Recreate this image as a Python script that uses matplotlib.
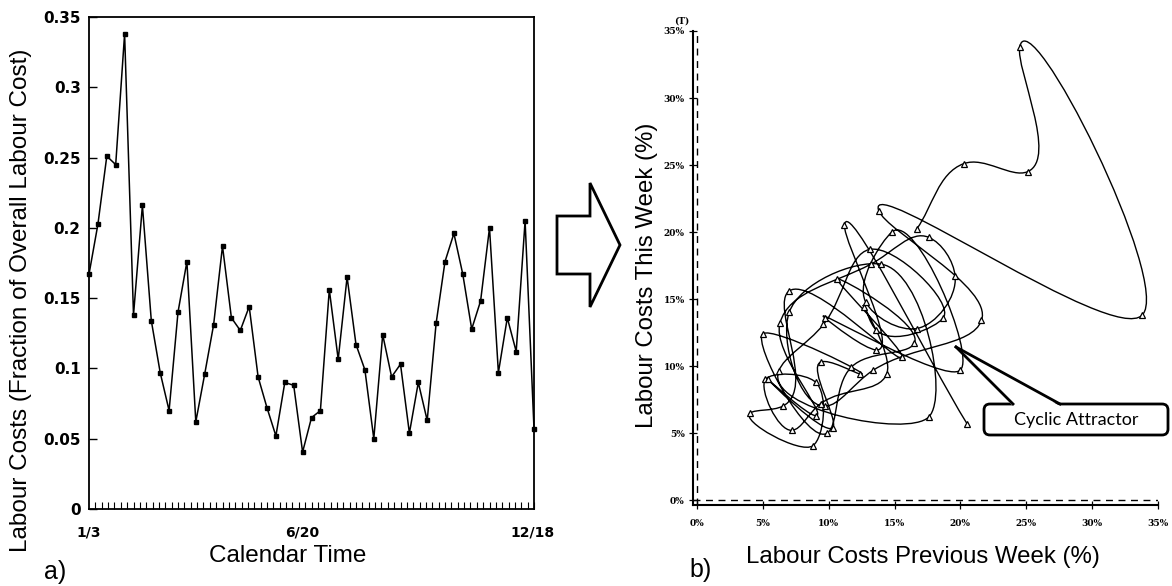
import matplotlib
matplotlib.use("Agg")
import matplotlib.pyplot as plt
import numpy as np
from matplotlib.path import Path
from matplotlib.patches import PathPatch, Polygon, FancyBboxPatch
from matplotlib.transforms import IdentityTransform

# weekly labour costs (fraction of overall labour cost), week 0 = 1/3
labour_cost = [0.167, 0.2025, 0.251, 0.245, 0.338, 0.138, 0.216, 0.134, 0.097, 0.070,
               0.140, 0.176, 0.062, 0.096, 0.131, 0.187, 0.136, 0.127, 0.144, 0.094,
               0.072, 0.052, 0.090, 0.088, 0.0405, 0.065, 0.070, 0.156, 0.1065, 0.165,
               0.117, 0.099, 0.050, 0.124, 0.094, 0.103, 0.054, 0.090, 0.063, 0.132,
               0.176, 0.196, 0.167, 0.128, 0.148, 0.200, 0.097, 0.136, 0.112, 0.205, 0.057]
date_labels = ["1/3", "6/20", "12/18"]
date_days = [0, 168, 349]
y_ticks_left = [0, 0.05, 0.1, 0.15, 0.2, 0.25, 0.3, 0.35]
y_tick_labels_left = ["0", "0.05", "0.1", "0.15", "0.2", "0.25", "0.3", "0.35"]
pct_ticks = [0, 5, 10, 15, 20, 25, 30, 35]

W, H = 1172, 586
LABEL_FONT = "Liberation Sans"


def frac(x, y):
    # pixel position (top-left origin) -> figure fraction
    return x / W, 1 - y / H


def disp(x, y):
    # pixel position (top-left origin) -> display coords
    return x, H - y


def smooth_path(xs, ys, alpha=1.0, tension=1.2):
    # chord-length catmull-rom through the points, drawn as bezier pieces
    pts = np.column_stack([xs, ys])
    n = len(pts)
    h = np.linalg.norm(np.diff(pts, axis=0), axis=1) ** alpha
    h = np.maximum(h, 1e-6)
    m = np.zeros_like(pts)
    m[0] = (pts[1] - pts[0]) / h[0]
    m[-1] = (pts[-1] - pts[-2]) / h[-1]
    for i in range(1, n - 1):
        a = (pts[i] - pts[i - 1]) / h[i - 1]
        b = (pts[i + 1] - pts[i]) / h[i]
        m[i] = tension * (a * h[i] + b * h[i - 1]) / (h[i - 1] + h[i])
    verts = [pts[0]]
    codes = [Path.MOVETO]
    for i in range(n - 1):
        verts += [pts[i] + m[i] * h[i] / 3.0, pts[i + 1] - m[i + 1] * h[i] / 3.0, pts[i + 1]]
        codes += [Path.CURVE4] * 3
    return Path(verts, codes)


fig = plt.figure(figsize=(W / 100, H / 100), dpi=100)

# ---- a) time series
weeks = np.arange(len(labour_cost))
ax1 = fig.add_axes([89 / W, 1 - 509 / H, 445 / W, 492 / H])
ax1.plot(weeks, labour_cost, color="black", lw=1.1, marker="s", ms=3, clip_on=False)
ax1.set_xlim(0, 50)
ax1.set_ylim(0, 0.35)
ax1.set_yticks(y_ticks_left)
ax1.set_yticklabels(y_tick_labels_left, fontweight="bold", fontsize=11)
ax1.set_xticks(np.array(date_days) / 7.0)
ax1.set_xticklabels(date_labels, fontweight="bold", fontsize=10)
ax1.set_xticks(np.arange(0, 351, 5) / 7.0, minor=True)
ax1.tick_params(axis="y", direction="in", length=6, width=1, pad=6)
ax1.tick_params(axis="x", which="major", length=0, pad=12)
ax1.tick_params(axis="x", which="minor", direction="in", length=5, width=0.8)
for s in ax1.spines.values():
    s.set_linewidth(1.3)

fig.text(*frac(21, 300), "Labour Costs (Fraction of Overall Labour Cost)", rotation=90,
         ha="center", va="center", fontsize=17.5, family=LABEL_FONT)
fig.text(*frac(288, 556), "Calendar Time", ha="center", va="center",
         fontsize=17.5, family=LABEL_FONT)
fig.text(*frac(55, 572), "a)", ha="center", va="center", fontsize=18, family=LABEL_FONT)

# ---- b) phase plot: this week vs previous week
pct = np.array(labour_cost) * 100
prev_week = pct[:-1]
this_week = pct[1:]

ax2 = fig.add_axes([693 / W, 1 - 505 / H, 465 / W, 474 / H])
ax2.add_patch(PathPatch(smooth_path(prev_week, this_week), fill=False,
                        edgecolor="black", lw=1.0, clip_on=False))
ax2.plot(prev_week, this_week, ls="none", marker="^", ms=4.5, mfc="white",
         mec="black", mew=0.9, clip_on=False)
ax2.set_xlim(-0.3, 35)
ax2.set_ylim(-0.37, 35)
ax2.axhline(0, color="black", lw=1, ls=(0, (5, 4)))
ax2.axvline(0, color="black", lw=1, ls=(0, (5, 4)))
ax2.spines["top"].set_visible(False)
ax2.spines["right"].set_visible(False)
ax2.spines["left"].set_linewidth(1.5)
ax2.spines["bottom"].set_linewidth(1.5)
ax2.set_xticks(pct_ticks)
ax2.set_yticks(pct_ticks)
ax2.set_xticklabels([f"{v}%" for v in pct_ticks], fontsize=6.5, fontweight="bold", family="DejaVu Serif")
ax2.set_yticklabels([f"{v}%" for v in pct_ticks], fontsize=6.5, fontweight="bold", family="DejaVu Serif")
ax2.tick_params(axis="both", direction="inout", length=6, width=0.9)
ax2.tick_params(axis="x", pad=7)
ax2.tick_params(axis="y", pad=3)

fig.text(*frac(682, 21), "(T)", ha="center", va="center", fontsize=6.5,
         fontweight="bold", family="DejaVu Serif")
fig.text(*frac(647, 275), "Labour Costs This Week (%)", rotation=90,
         ha="center", va="center", fontsize=17.3, family=LABEL_FONT)
fig.text(*frac(923, 557), "Labour Costs Previous Week (%)", ha="center", va="center",
         fontsize=17.3, family=LABEL_FONT)
fig.text(*frac(701, 570), "b)", ha="center", va="center", fontsize=18, family=LABEL_FONT)

# ---- block arrow between the panels
arrow_px = [(557, 216), (590, 216), (590, 183), (620, 245), (590, 307), (590, 274), (557, 274)]
fig.patches.append(Polygon([disp(x, y) for x, y in arrow_px], closed=True,
                           facecolor="white", edgecolor="black", lw=2,
                           transform=IdentityTransform(), figure=fig))

# ---- callout "Cyclic Attractor"
bx0, by0, bx1, by1 = 984, 404, 1168, 435
box = FancyBboxPatch(disp(bx0, by1), bx1 - bx0, by1 - by0,
                     boxstyle="round,pad=0,rounding_size=6",
                     facecolor="white", edgecolor="black", lw=2,
                     transform=IdentityTransform(), figure=fig)
fig.patches.append(box)
tip = (956, 347)
base_l, base_r = (1013, 404), (1060, 404)
fig.patches.append(Polygon([disp(*tip), disp(base_r[0], base_r[1] + 2),
                            disp(base_l[0], base_l[1] + 2)], closed=True,
                           facecolor="white", edgecolor="none",
                           transform=IdentityTransform(), figure=fig))
for b in (base_l, base_r):
    fig.lines.append(plt.Line2D([disp(*tip)[0], disp(*b)[0]], [disp(*tip)[1], disp(*b)[1]],
                                color="black", lw=2, transform=IdentityTransform(),
                                figure=fig, solid_joinstyle="miter"))
fig.text(*frac(1076, 420), "Cyclic Attractor", ha="center", va="center",
         fontsize=13, family="Lato")

fig.savefig("out.png", dpi=100)
